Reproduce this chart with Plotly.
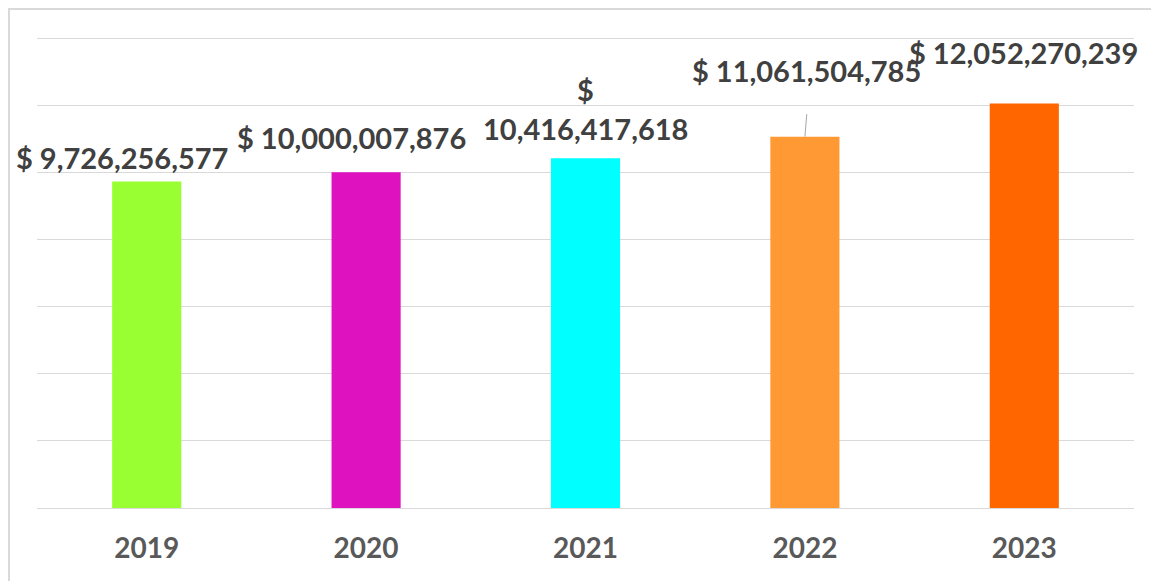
import plotly.graph_objects as go

years = ["2019", "2020", "2021", "2022", "2023"]
values = [9726256577, 10000007876, 10416417618, 11061504785, 12052270239]
colors = ["#99FF33", "#DF12BF", "#00FFFF", "#FF9933", "#FF6600"]

# label placement offsets (pixels) relative to bar top
label_dx = [-25, -15, 0, 2, -1]
label_dy = [24, 35, 30, 66, 51]

FONT = "Lato"
LABEL_FONT = dict(family=FONT, size=29, color="#404040")

fig = go.Figure()
fig.add_trace(go.Bar(
    x=years, y=values, marker=dict(color=colors, line=dict(width=0)),
    width=0.315,
))

for i, (yr, v) in enumerate(zip(years, values)):
    # category axis: position annotations by category index
    if yr == "2021":
        fig.add_annotation(x=i, y=v, text="<b>$</b>", showarrow=False, xanchor="center",
                           yanchor="middle", xshift=label_dx[i], yshift=label_dy[i] + 39,
                           font=LABEL_FONT)
        fig.add_annotation(x=i, y=v, text=f"<b>{v:,}</b>", showarrow=False, xanchor="center",
                           yanchor="middle", xshift=label_dx[i], yshift=label_dy[i],
                           font=LABEL_FONT)
    else:
        fig.add_annotation(x=i, y=v, text=f"<b>$ {v:,}</b>", showarrow=False, xanchor="center",
                           yanchor="middle", xshift=label_dx[i], yshift=label_dy[i],
                           font=LABEL_FONT)

# leader line for 2022 label
fig.add_annotation(x=3, y=values[3], text="", showarrow=True, arrowhead=0,
                   ax=2, ay=-24, arrowwidth=1, arrowcolor="#a6a6a6", standoff=0)

# chart border (extends past right / bottom edges like the reference)
PW, PH = 1097, 472
fig.add_shape(type="rect", xref="paper", yref="paper",
              x0=(9 - 37) / PW, x1=(1175 - 37) / PW, y0=(508 - 600) / PH, y1=(508 - 9) / PH,
              line=dict(color="#d9d9d9", width=2), fillcolor="rgba(0,0,0,0)", layer="below")

fig.update_layout(
    width=1159, height=581,
    margin=dict(l=29, r=33, t=28, b=81),
    paper_bgcolor="white", plot_bgcolor="white",
    showlegend=False,
    xaxis=dict(type="category", categoryorder="array", categoryarray=years,
               range=[-0.5, 4.5], autorange=False,
               showgrid=False, showline=False, ticks="",
               tickvals=years, ticktext=[f"<b>{y}</b>" for y in years], tickangle=0,
               ticklabelstandoff=21,
               tickfont=dict(family=FONT, size=28, color="#595959")),
    yaxis=dict(range=[0, 14e9 * 472 / 470], autorange=False, dtick=2e9, showticklabels=False,
               showgrid=True, gridcolor="#d9d9d9", gridwidth=1, zeroline=True,
               zerolinecolor="#d9d9d9", zerolinewidth=1, showline=False, ticks=""),
)

fig.write_html("out.html")
